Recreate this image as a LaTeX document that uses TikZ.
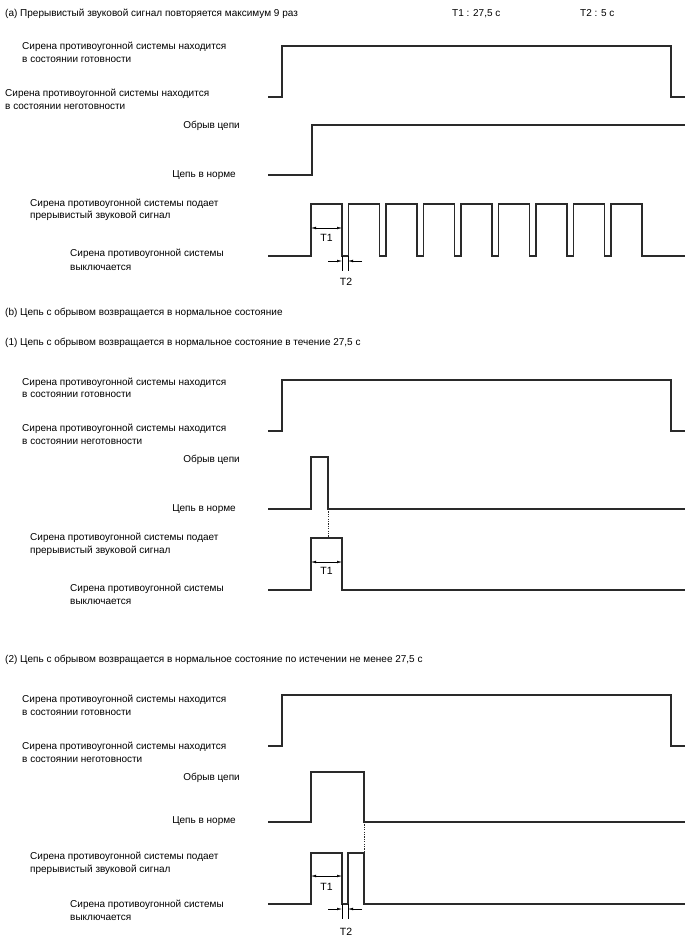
\documentclass[tikz,border=0pt]{standalone}
\usepackage{fontspec}
\setmainfont{Liberation Sans}
\usetikzlibrary{arrows.meta}
\definecolor{wavec}{HTML}{2A2A2A}
\begin{document}
\begin{tikzpicture}[x=1pt,y=-1pt,
  wave/.style={line width=1.2pt, color=wavec, line join=miter},
  txt/.style={anchor=base west, inner sep=0pt, font=\fontsize{10}{12}\selectfont},
  txtr/.style={anchor=base east, inner sep=0pt, font=\fontsize{10}{12}\selectfont},
  tlab/.style={anchor=center, inner sep=0pt, font=\fontsize{10.5}{12}\selectfont},
  dimboth/.style={line width=0.5pt, {Latex[length=5pt,width=2.6pt]}-{Latex[length=5pt,width=2.6pt]}},
  dimone/.style={line width=0.5pt, -{Latex[length=5pt,width=2.6pt]}},
  extl/.style={line width=0.5pt},
  dots/.style={line width=0.8pt, color=wavec, dash pattern=on 1.2pt off 1.2pt}]
\useasboundingbox (0,0) rectangle (688,949);

% ---------------- (a) ----------------
\node[txt] (ha) at (5,17) {(a) Прерывистый звуковой сигнал повторяется максимум 9 раз};
\node[txt] (t1h) at (452,17) {T1 : 27,5 с};
\node[txt] (t2h) at (580,17) {T2 : 5 с};

\node[txt] (a1a) at (22,50) {Сирена противоугонной системы находится};
\node[txt] (a1b) at (22,63) {в состоянии готовности};
\node[txt] (a2a) at (5,97) {Сирена противоугонной системы находится};
\node[txt] (a2b) at (5,110) {в состоянии неготовности};
\node[txtr] (a3) at (240,129) {Обрыв цепи};
\node[txtr] (a4) at (236,178) {Цепь в норме};
\node[txt] (a5a) at (30,207) {Сирена противоугонной системы подает};
\node[txt] (a5b) at (30,219) {прерывистый звуковой сигнал};
\node[txt] (a6a) at (70,257) {Сирена противоугонной системы};
\node[txt] (a6b) at (70,270) {выключается};

\draw[wave] (268,97) -- (282,97) -- (282,46) -- (671,46) -- (671,97) -- (685,97);
\draw[wave] (268,175) -- (312,175) -- (312,125) -- (685,125);
\draw[wave] (268,256) foreach \k in {0,...,8} {
    -- ({311+37.5*\k},256) -- ({311+37.5*\k},204) -- ({342+37.5*\k},204) -- ({342+37.5*\k},256) }
  -- (685,256);

\coordinate (aT1l) at (311,228);
\coordinate (aT1r) at (342,228);
\draw[dimboth] (aT1l) -- (aT1r);
\node[tlab] (aT1) at (326.5,238) {T1};
\draw[extl] (342,256) -- (342,271);
\draw[extl] (348,256) -- (348,271);
\coordinate (aT2a) at (328,261);
\coordinate (aT2b) at (342,261);
\coordinate (aT2c) at (362,261);
\coordinate (aT2d) at (348,261);
\draw[dimone] (aT2a) -- (aT2b);
\draw[dimone] (aT2c) -- (aT2d);
\node[tlab] (aT2) at (346,282) {T2};

% ---------------- (b) ----------------
\node[txt] (hb) at (5,315) {(b) Цепь с обрывом возвращается в нормальное состояние};
\node[txt] (hb1) at (5,345) {(1) Цепь с обрывом возвращается в нормальное состояние в течение 27,5 с};

\node[txt] (b1a) at (22,385) {Сирена противоугонной системы находится};
\node[txt] (b1b) at (22,397) {в состоянии готовности};
\node[txt] (b2a) at (22,431) {Сирена противоугонной системы находится};
\node[txt] (b2b) at (22,444) {в состоянии неготовности};
\node[txtr] (b3) at (240,462) {Обрыв цепи};
\node[txtr] (b4) at (236,511) {Цепь в норме};
\node[txt] (b5a) at (30,540) {Сирена противоугонной системы подает};
\node[txt] (b5b) at (30,553) {прерывистый звуковой сигнал};
\node[txt] (b6a) at (70,591) {Сирена противоугонной системы};
\node[txt] (b6b) at (70,604) {выключается};

\draw[wave] (268,431) -- (282,431) -- (282,380) -- (671,380) -- (671,431) -- (685,431);
\draw[wave] (268,509) -- (311,509) -- (311,457) -- (328,457) -- (328,509) -- (685,509);
\draw[dots] (328,509) -- (328,538);
\draw[wave] (268,590) -- (311,590) -- (311,538) -- (342,538) -- (342,590) -- (685,590);
\coordinate (bT1l) at (311,562);
\coordinate (bT1r) at (342,562);
\draw[dimboth] (bT1l) -- (bT1r);
\node[tlab] (bT1) at (326.5,571) {T1};

% ---------------- (2) ----------------
\node[txt] (hc) at (5,662) {(2) Цепь с обрывом возвращается в нормальное состояние по истечении не менее 27,5 с};

\node[txt] (c1a) at (22,702) {Сирена противоугонной системы находится};
\node[txt] (c1b) at (22,715) {в состоянии готовности};
\node[txt] (c2a) at (22,749) {Сирена противоугонной системы находится};
\node[txt] (c2b) at (22,762) {в состоянии неготовности};
\node[txtr] (c3) at (240,780) {Обрыв цепи};
\node[txtr] (c4) at (236,823) {Цепь в норме};
\node[txt] (c5a) at (30,859) {Сирена противоугонной системы подает};
\node[txt] (c5b) at (30,872) {прерывистый звуковой сигнал};
\node[txt] (c6a) at (70,907) {Сирена противоугонной системы};
\node[txt] (c6b) at (70,920) {выключается};

\draw[wave] (268,746) -- (282,746) -- (282,695) -- (671,695) -- (671,746) -- (685,746);
\draw[wave] (268,822) -- (311,822) -- (311,772) -- (364,772) -- (364,822) -- (685,822);
\draw[dots] (364,822) -- (364,853);
\draw[wave] (268,904) -- (311,904) -- (311,853) -- (342,853) -- (342,904) -- (348,904) -- (348,853) -- (364,853) -- (364,904) -- (685,904);
\coordinate (cT1l) at (311,876);
\coordinate (cT1r) at (342,876);
\draw[dimboth] (cT1l) -- (cT1r);
\node[tlab] (cT1) at (326.5,887) {T1};
\draw[extl] (342,904) -- (342,919);
\draw[extl] (348,904) -- (348,919);
\coordinate (cT2a) at (328,909);
\coordinate (cT2b) at (342,909);
\coordinate (cT2c) at (362,909);
\coordinate (cT2d) at (348,909);
\draw[dimone] (cT2a) -- (cT2b);
\draw[dimone] (cT2c) -- (cT2d);
\node[tlab] (cT2) at (346,932) {T2};
\end{tikzpicture}
\end{document}
